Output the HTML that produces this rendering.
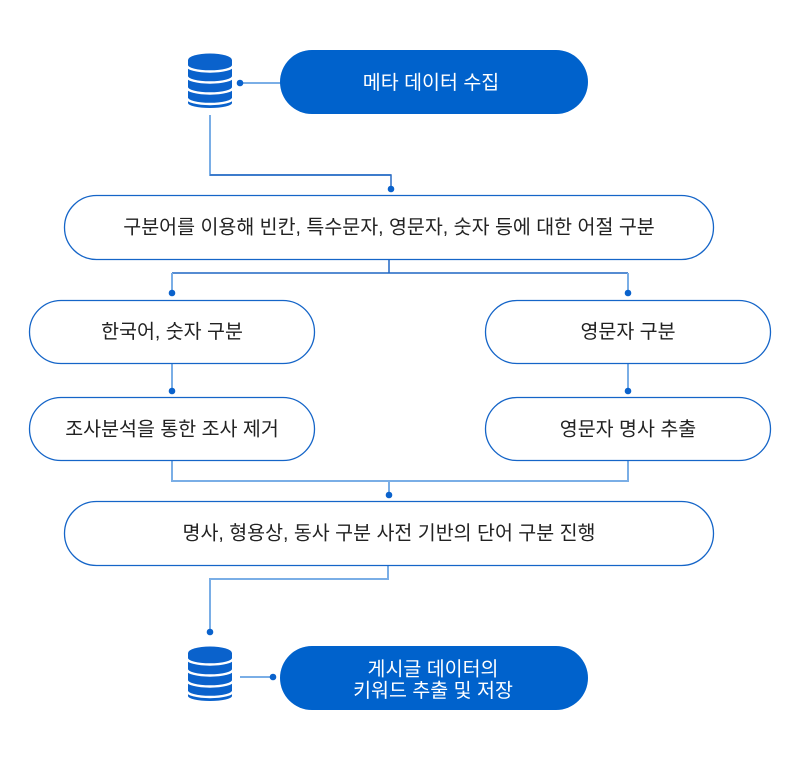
<!DOCTYPE html>
<html><head><meta charset="utf-8"><style>
html,body{margin:0;padding:0;background:#fff;}
svg{display:block;}
text{font-family:"Liberation Sans","Noto Sans CJK KR",sans-serif;font-size:19.5px;}
</style></head><body>
<svg width="801" height="761" viewBox="0 0 801 761" xmlns="http://www.w3.org/2000/svg">
<defs>
<g id="db">
<path d="M188,60 A22,6.5 0 0 1 232,60 L232,103 A22,5 0 0 1 188,103 Z" fill="#0a62cc"/>
<g fill="none" stroke="#fff" stroke-width="2.4">
<path d="M187,65.5 A23,6 0 0 0 233,65.5"/>
<path d="M187,76.5 A23,6 0 0 0 233,76.5"/>
<path d="M187,87.5 A23,6 0 0 0 233,87.5"/>
<path d="M187,98 A23,6 0 0 0 233,98"/>
</g>
</g>
</defs>

<!-- connectors -->
<g fill="none" stroke-width="2">
<line x1="240" y1="83" x2="281" y2="83" stroke="#7aaee6"/>
<polyline points="210,115 210,175 391,175" stroke="#7aaee6"/>
<polyline points="210,175 391,175 391,189" stroke="#2a6cc4" stroke-width="1.5"/>
<line x1="389" y1="259" x2="389" y2="273" stroke="#1f66c4" stroke-width="1.5"/>
<line x1="172" y1="273" x2="628" y2="273" stroke="#1f66c4" stroke-width="1.5"/>
<line x1="172" y1="273" x2="172" y2="293" stroke="#7aaee6"/>
<line x1="628" y1="273" x2="628" y2="293" stroke="#7aaee6"/>
<line x1="172" y1="363" x2="172" y2="391" stroke="#7aaee6"/>
<line x1="628" y1="363" x2="628" y2="391" stroke="#7aaee6"/>
<polyline points="172,461 172,481 628,481 628,461" stroke="#7aaee6"/>
<line x1="389" y1="481" x2="389" y2="495" stroke="#7aaee6"/>
<polyline points="388,565 388,579 210,579 210,632" stroke="#7aaee6"/>
<line x1="240" y1="677" x2="273" y2="677" stroke="#7aaee6"/>
</g>
<g fill="#0a62cc">
<circle cx="240" cy="83" r="3.3"/>
<circle cx="391" cy="189" r="3.3"/>
<circle cx="172" cy="293" r="3.3"/>
<circle cx="628" cy="293" r="3.3"/>
<circle cx="172" cy="391" r="3.3"/>
<circle cx="628" cy="391" r="3.3"/>
<circle cx="389" cy="495" r="3.3"/>
<circle cx="210" cy="632" r="3.3"/>
<circle cx="273" cy="677" r="3.3"/>
</g>

<!-- db icons -->
<use href="#db"/>
<use href="#db" transform="translate(0,593)"/>

<!-- boxes -->
<rect x="280" y="50" width="308" height="64" rx="32" fill="#0062cc"/>
<rect x="64.5" y="195.5" width="649" height="64" rx="32" fill="#fff" stroke="#1565c8" stroke-width="1.3"/>
<rect x="29.5" y="300.5" width="285" height="63" rx="31.5" fill="#fff" stroke="#1565c8" stroke-width="1.3"/>
<rect x="485.5" y="300.5" width="285" height="63" rx="31.5" fill="#fff" stroke="#1565c8" stroke-width="1.3"/>
<rect x="29.5" y="397.5" width="285" height="63" rx="31.5" fill="#fff" stroke="#1565c8" stroke-width="1.3"/>
<rect x="485.5" y="397.5" width="285" height="63" rx="31.5" fill="#fff" stroke="#1565c8" stroke-width="1.3"/>
<rect x="64.5" y="501.5" width="649" height="64" rx="32" fill="#fff" stroke="#1565c8" stroke-width="1.3"/>
<rect x="280" y="646" width="308" height="64" rx="32" fill="#0062cc"/>

<!-- labels -->
<g text-anchor="middle" dominant-baseline="central">
<text x="431" y="83" fill="#fff">메타 데이터 수집</text>
<text x="389" y="227.5" fill="#222">구분어를 이용해 빈칸, 특수문자, 영문자, 숫자 등에 대한 어절 구분</text>
<text x="172" y="332" fill="#222">한국어, 숫자 구분</text>
<text x="628" y="332" fill="#222">영문자 구분</text>
<text x="172" y="429.5" fill="#222">조사분석을 통한 조사 제거</text>
<text x="628" y="429.5" fill="#222">영문자 명사 추출</text>
<text x="389" y="533.5" fill="#222">명사, 형용상, 동사 구분 사전 기반의 단어 구분 진행</text>
<text x="433" y="669.5" fill="#fff">게시글 데이터의</text>
<text x="433" y="691" fill="#fff">키워드 추출 및 저장</text>
</g>
</svg>
</body></html>
